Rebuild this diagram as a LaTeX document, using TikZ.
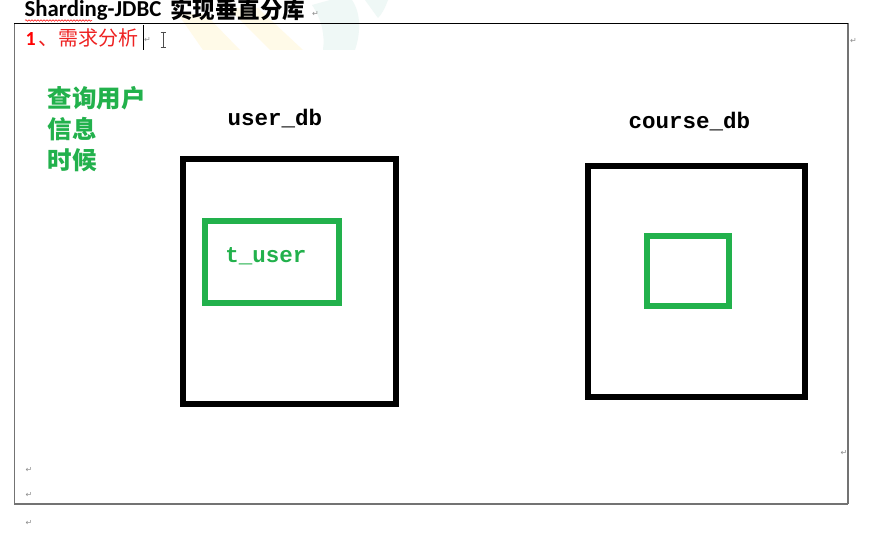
\documentclass[tikz,border=0pt]{standalone}
\usepackage{fontspec}
\setmainfont{Carlito}
\newfontfamily\cjk{Noto Sans CJK SC}
\newfontfamily\mono{Liberation Mono}
\newfontfamily\sym{DejaVu Sans}
\usetikzlibrary{decorations.pathmorphing}
\definecolor{pgreen}{HTML}{22B14C}
\definecolor{wmyellow}{HTML}{FFFAE8}
\definecolor{wmteal}{HTML}{EFF8F6}
\definecolor{markgray}{HTML}{8C8C8C}
\definecolor{hred}{HTML}{EE2222}
\tikzset{
  dbbox/.style={draw=black, line width=6pt, inner sep=0pt, outer sep=0pt},
  tblbox/.style={draw=pgreen, line width=6pt, inner sep=0pt, outer sep=0pt},
  dblabel/.style={font=\mono\bfseries\fontsize{22.5}{24}\selectfont, inner sep=0pt},
  pmark/.style={font=\sym\fontsize{8}{9}\selectfont, text=markgray, inner sep=0pt},
  framegray/.style={draw=black!55},
}
\begin{document}
\begin{tikzpicture}[x=1pt,y=-1pt]
\useasboundingbox (0,0) rectangle (889,535);
\fill[white] (0,0) rectangle (889,535);
% faint watermark
\begin{scope}
\clip (170,0) rectangle (400,50);
\fill[wmyellow] (178,14) -- (205,14) -- (240,50) -- (203,50) -- cycle;
\fill[wmyellow] (228,8) -- (258,8) -- (303,50) -- (270,50) -- cycle;
\fill[wmteal] (352,0) .. controls (362,15) and (360,35) .. (355,50) -- (323,50) .. controls (325,35) and (322,20) .. (312,5) -- (330,0) -- cycle;
\fill[wmteal] (365,0) -- (388,0) .. controls (385,8) and (382,14) .. (378,18) -- cycle;
\end{scope}
% frame
\draw[framegray, line width=1pt] (14,23) -- (14,504);
\draw[framegray, line width=1.8pt] (848,23) -- (848,504);
\draw[framegray, line width=1.6pt] (14,504) -- (848,504);
\draw[black, line width=0.8pt] (14,23) -- (848,23);
% title
\node[anchor=base west, inner sep=0pt, font=\fontsize{22.8}{25}\selectfont\bfseries] (title) at (24.5,16.5) {Sharding-JDBC};
\node[anchor=base west, inner sep=0pt, font=\cjk\bfseries\fontsize{22.5}{24}\selectfont] (titlecn) at (170,18.5) {实现垂直分库};
\draw[red, line width=0.5pt, decorate, decoration={snake, amplitude=0.8pt, segment length=3pt}] (25,20.5) -- (92,20.5);
\node[pmark, anchor=west] (m1) at (312,14) {↵};
% heading
\node[anchor=west, inner sep=0pt, text=hred, font=\fontsize{20}{22}\selectfont] (head) at (25.5,37.5) {\textcolor{red}{\textbf{1}}\hspace{3pt}{\cjk 、需求分析}};
\node[pmark, anchor=west] (m2) at (144,40) {↵};
\draw[black, line width=1pt] (143,25) -- (143,50);
\draw[black!70, line width=0.8pt] (163,32) -- (163,47) (160.5,32) -- (165.5,32) (160.5,47) -- (165.5,47);
\node[pmark, anchor=west] (m3) at (850,41) {↵};
% green note
\node[anchor=north west, align=left, inner sep=0pt, text=pgreen, font=\cjk\bfseries\fontsize{24.5}{31}\selectfont] (note) at (47.5,86) {查询用户\\信息\\时候};
% user_db
\node[dblabel] (userlbl) at (275,118.5) {user\_db};
\node[dbbox, minimum width=213.5pt, minimum height=245pt] (userdb) at (289.25,281.5) {};
\node[tblbox, minimum width=134.5pt, minimum height=82.5pt] (tuser) at (271.75,261.75) {};
\node[dblabel, text=pgreen] (tuserlbl) at (266,256) {t\_user};
% course_db
\node[dblabel] (courselbl) at (689.5,121.7) {course\_db};
\node[dbbox, minimum width=216.5pt, minimum height=231.2pt] (coursedb) at (696.25,281.1) {};
\node[tblbox, minimum width=81.5pt, minimum height=70.3pt] (tcourse) at (687.75,271.15) {};
% paragraph marks
\node[pmark] (m4) at (844,453) {↵};
\node[pmark] (m5) at (29,470) {↵};
\node[pmark] (m6) at (29,495) {↵};
\node[pmark] (m7) at (29,523) {↵};
\end{tikzpicture}
\end{document}
